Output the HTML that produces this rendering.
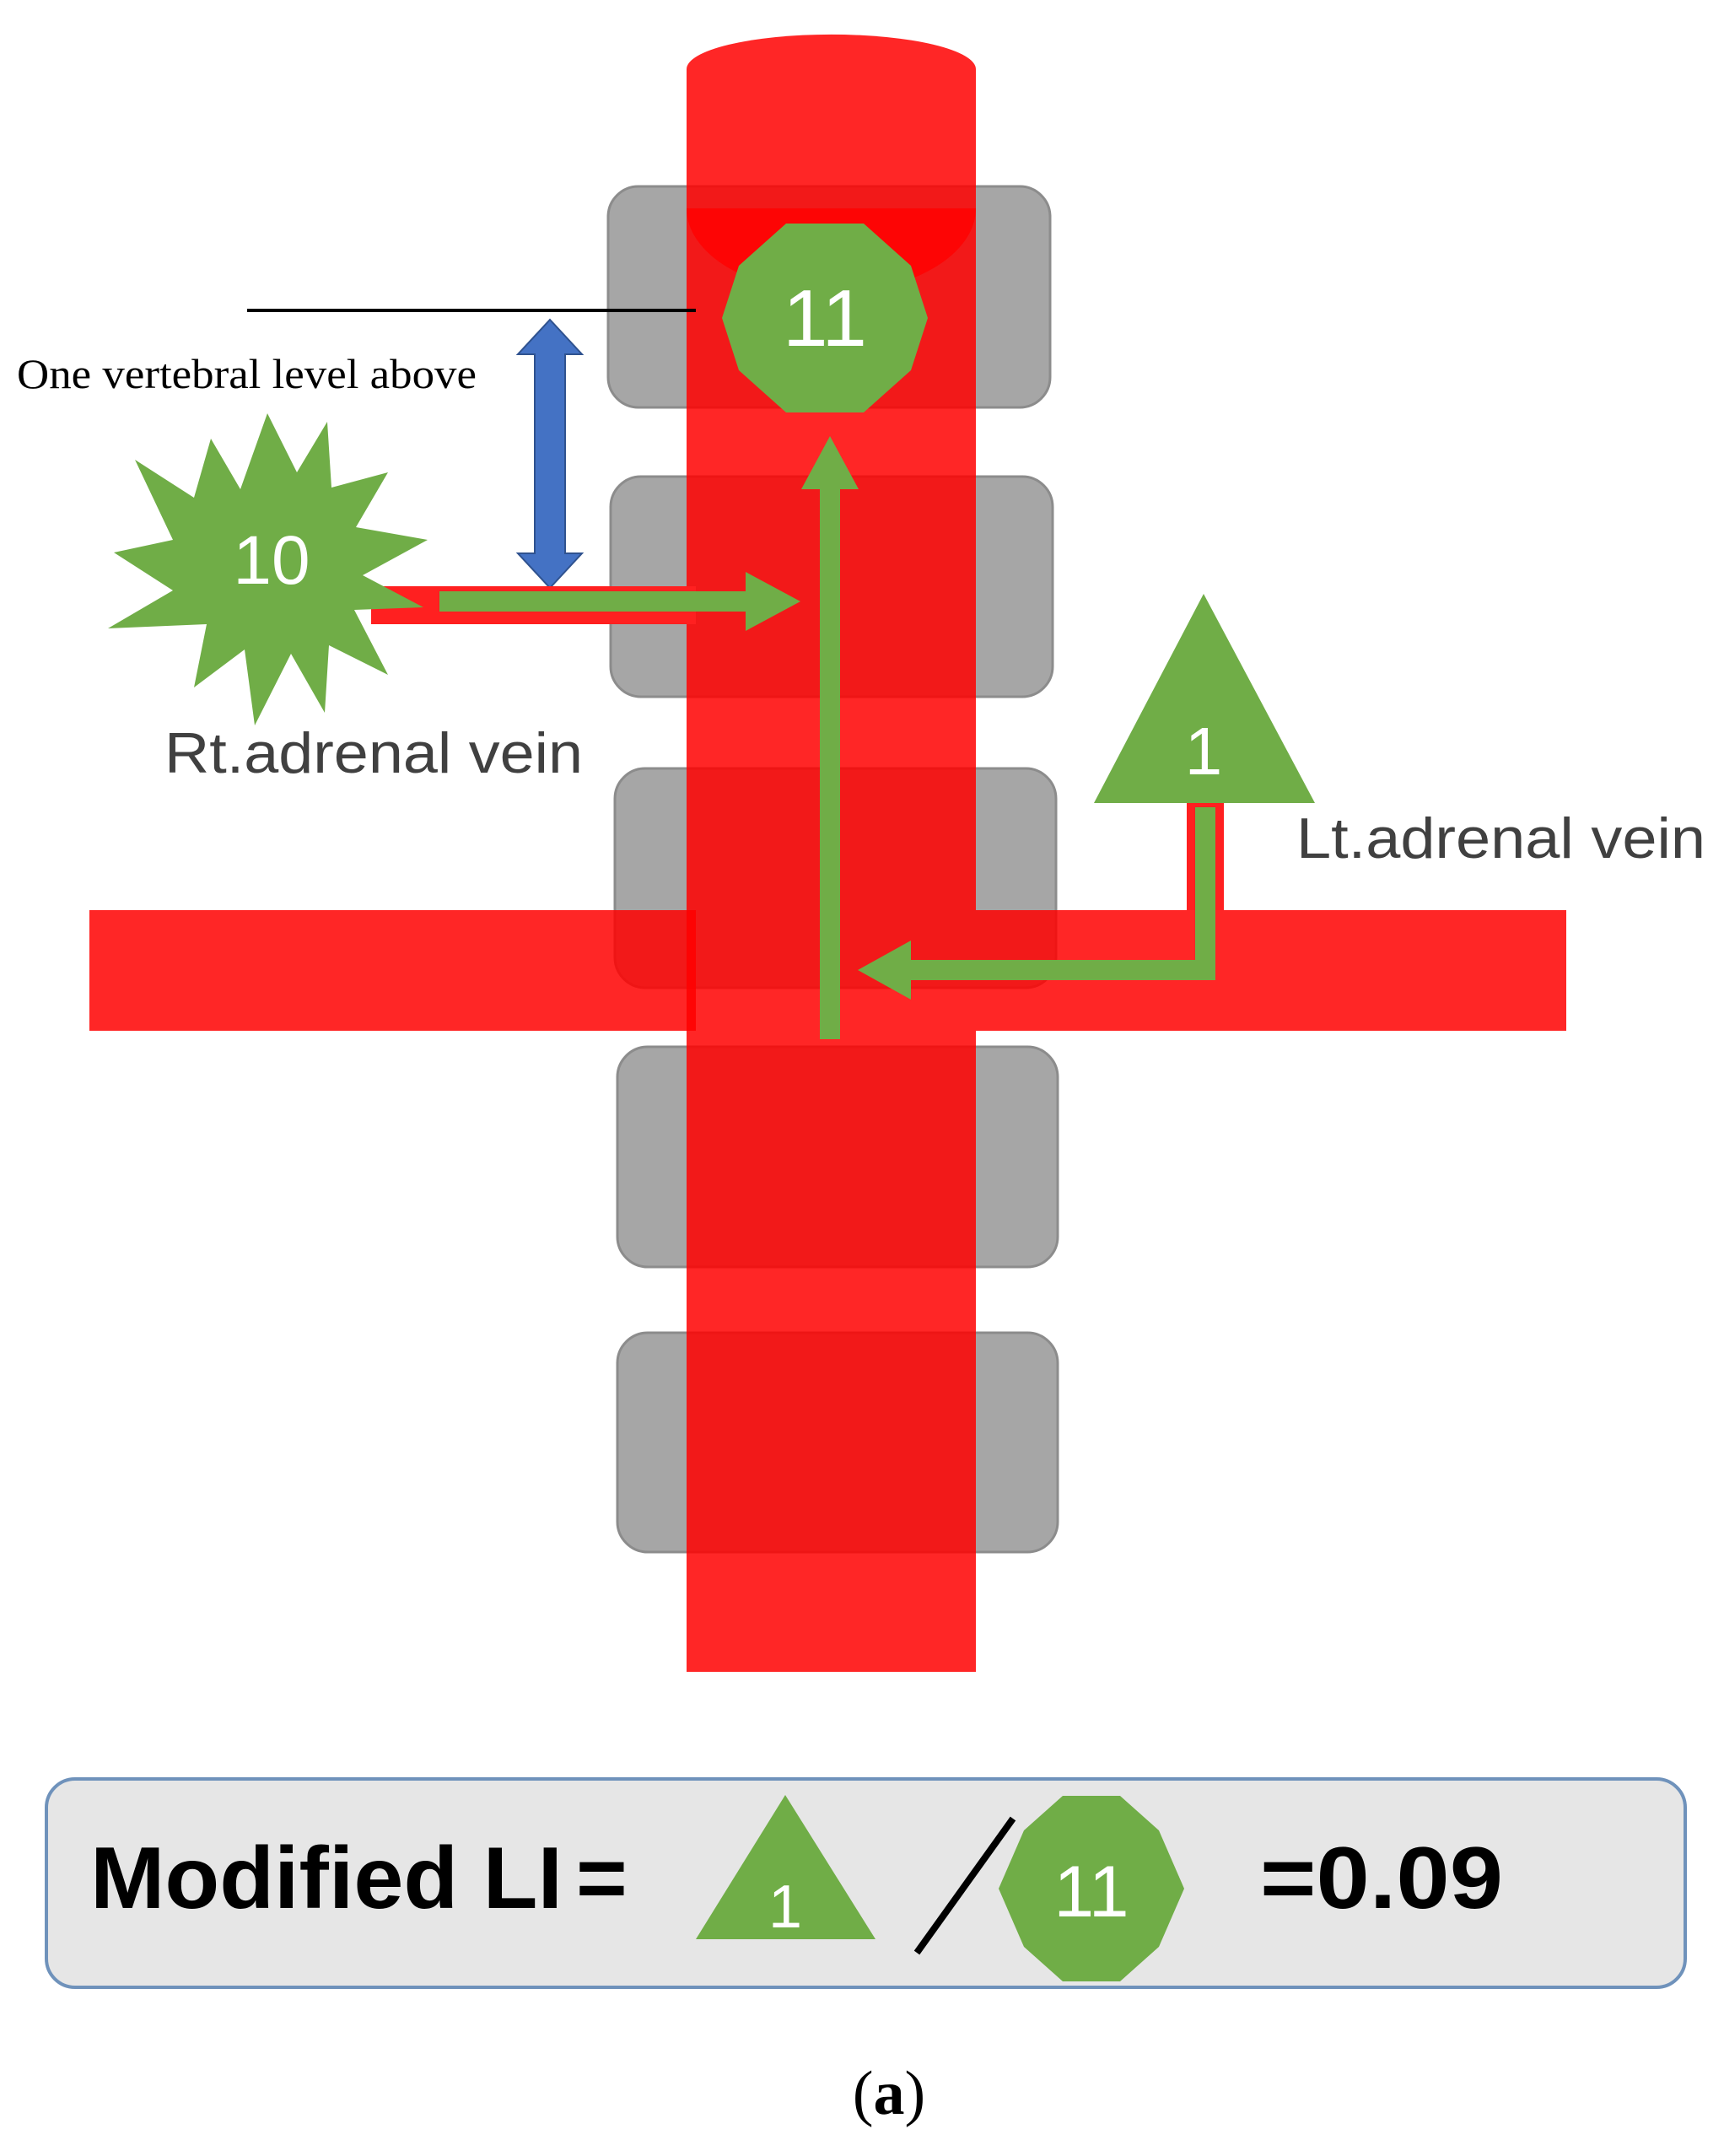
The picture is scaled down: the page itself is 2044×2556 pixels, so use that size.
<!DOCTYPE html>
<html><head><meta charset="utf-8"><style>html,body{margin:0;padding:0;background:#fff}svg{display:block}</style></head>
<body>
<svg width="2044" height="2556" viewBox="0 0 2044 2556" xmlns="http://www.w3.org/2000/svg">
<rect width="2044" height="2556" fill="#fff"/>
<!-- vertebrae -->
<g fill="#a6a6a6" stroke="#8c8c8c" stroke-width="3">
<rect x="721" y="221" width="524" height="262" rx="36"/>
<rect x="724" y="565" width="524" height="261" rx="36"/>
<rect x="729" y="911" width="523" height="260" rx="36"/>
<rect x="732" y="1241" width="522" height="261" rx="36"/>
<rect x="732" y="1580" width="522" height="260" rx="36"/>
</g>
<!-- renal vein (excluding aorta region) -->
<rect x="106" y="1079" width="719" height="143" fill="#ff0000" opacity="0.85"/>
<rect x="1157" y="1079" width="700" height="143" fill="#ff0000" opacity="0.85"/>
<!-- aorta -->
<path d="M814,82 A171,41 0 0 1 1157,82 L1157,1982 L814,1982 Z" fill="#ff0000" opacity="0.85"/>
<path d="M814,247 A171,100 0 0 0 1157,247 Z" fill="#ff0000" opacity="0.8"/>
<!-- black line -->
<line x1="293" y1="368" x2="825" y2="368" stroke="#000" stroke-width="4"/>
<!-- blue double arrow -->
<polygon points="652,379 690,420 670,420 670,656 690,656 652,697 614,656 634,656 634,420 614,420" fill="#4472c4" stroke="#2f528f" stroke-width="2"/>
<text x="20" y="460" font-family="Liberation Serif, serif" font-size="50" fill="#000" textLength="545" lengthAdjust="spacingAndGlyphs">One vertebral level above</text>
<!-- red vein from star -->
<rect x="440" y="695" width="385" height="45" fill="#ff2020"/>
<!-- star -->
<polygon fill="#70ad47" points="
317,490 352,560 388,500 393,578 460,560 422,625 507,640 430,682 502,720 420,723 460,800 390,765 385,845 345,775 302,860 290,770 230,815 245,740 128,745 205,700 135,655 205,640 160,545 230,590 250,520 285,580"/>
<text x="322" y="692" font-family="Liberation Sans, sans-serif" font-size="82" fill="#fff" text-anchor="middle">10</text>
<!-- green horizontal arrow -->
<polygon points="521,701 884,701 884,678 949,713 884,748 884,725 521,725" fill="#70ad47"/>
<!-- green vertical arrow -->
<polygon points="972,1232 972,580 950,580 984,517 1018,580 996,580 996,1232" fill="#70ad47"/>
<!-- decagon 11 -->
<polygon fill="#70ad47" points="932,265 1024,265 1080,315 1100,377 1080,439 1024,489 932,489 876,439 856,377 876,315"/>
<text x="978" y="410" font-family="Liberation Sans, sans-serif" font-size="96" fill="#fff" text-anchor="middle">11</text>
<!-- triangle 1 -->
<rect x="1407" y="952" width="44" height="127" fill="#ff2020"/>
<polygon points="1427,704 1559,952 1297,952" fill="#70ad47"/>
<text x="1427" y="918" font-family="Liberation Sans, sans-serif" font-size="80" fill="#fff" text-anchor="middle">1</text>
<!-- L arrow -->
<polygon points="1417,957 1441,957 1441,1162 1080,1162 1080,1185 1017,1150 1080,1115 1080,1138 1417,1138" fill="#70ad47"/>
<text x="195" y="916" font-family="Liberation Sans, sans-serif" font-size="68" fill="#404040" textLength="496" lengthAdjust="spacingAndGlyphs">Rt.adrenal vein</text>
<text x="1537" y="1017" font-family="Liberation Sans, sans-serif" font-size="68" fill="#404040" textLength="485" lengthAdjust="spacingAndGlyphs">Lt.adrenal vein</text>
<!-- formula box -->
<rect x="55" y="2109" width="1943" height="247" rx="34" fill="#e6e6e6" stroke="#6f92bb" stroke-width="4"/>
<text x="107" y="2262" font-family="Liberation Sans, sans-serif" font-weight="bold" font-size="104" fill="#000" textLength="560" lengthAdjust="spacingAndGlyphs">Modified LI</text>
<text x="683" y="2262" font-family="Liberation Sans, sans-serif" font-weight="bold" font-size="104" fill="#000">=</text>
<polygon points="931,2128 1038,2299 825,2299" fill="#70ad47"/>
<text x="931" y="2285" font-family="Liberation Sans, sans-serif" font-size="72" fill="#fff" text-anchor="middle">1</text>
<line x1="1087" y1="2315" x2="1201" y2="2156" stroke="#000" stroke-width="8"/>
<polygon fill="#70ad47" points="1260,2129 1328,2129 1374,2170 1404,2239 1374,2308 1328,2349 1260,2349 1214,2308 1184,2239 1214,2170"/>
<text x="1294" y="2272" font-family="Liberation Sans, sans-serif" font-size="86" fill="#fff" text-anchor="middle">11</text>
<text x="1494" y="2262" font-family="Liberation Sans, sans-serif" font-weight="bold" font-size="104" fill="#000" textLength="288" lengthAdjust="spacingAndGlyphs">=0.09</text>
<text x="1054" y="2506" font-family="Liberation Serif, serif" font-size="74" fill="#000" text-anchor="middle">(<tspan font-weight="bold">a</tspan>)</text>
</svg>
</body></html>
